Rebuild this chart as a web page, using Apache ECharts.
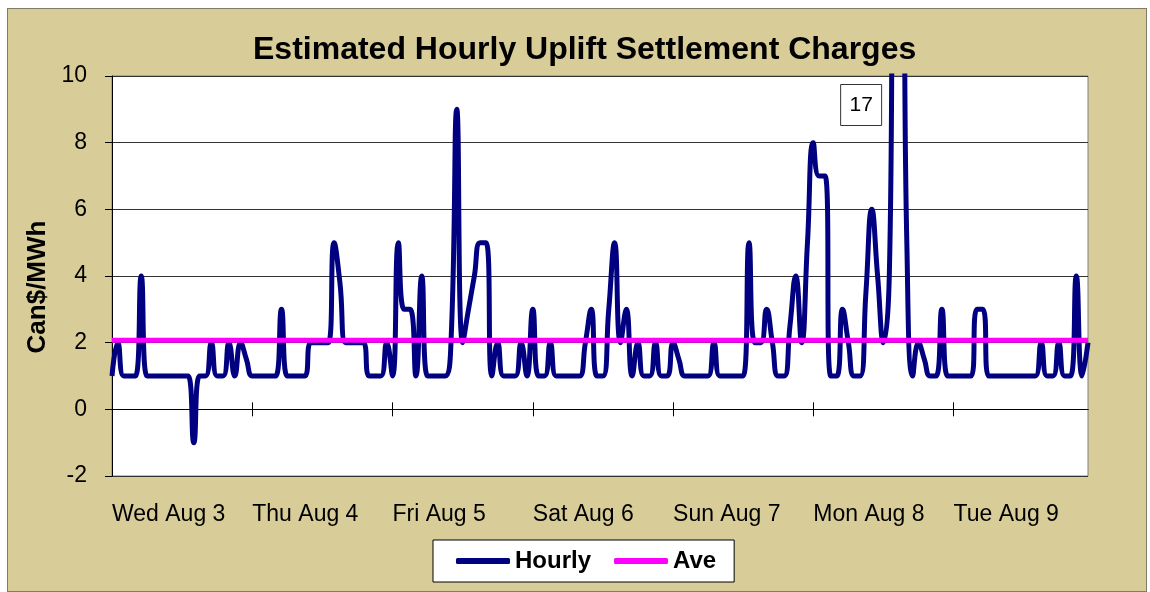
<!DOCTYPE html>
<html>
<head>
<meta charset="utf-8">
<title>Estimated Hourly Uplift Settlement Charges</title>
<script src="https://cdn.jsdelivr.net/npm/echarts@6/dist/echarts.min.js"></script>
<style>
	html, body { margin: 0; padding: 0; background: #fff; }
	#main {
		position: absolute; left: 7px; top: 8px;
		width: 1138px; height: 582px;
		border: 1px solid #7f7b68;
		background: #d8cc98;
	}
</style>
</head>
<body>
<div id="main"></div>
<script>
// day labels, one per 24 hours
var dayLabels = ['Wed Aug 3', 'Thu Aug 4', 'Fri Aug 5', 'Sat Aug 6', 'Sun Aug 7', 'Mon Aug 8', 'Tue Aug 9'];

// hourly uplift, Can$/MWh (one array per day)
var wedAug3 = [1, 2, 1, 1, 1, 4, 1, 1, 1, 1, 1, 1, 1, 1, -1, 1, 1, 2, 1, 1, 2, 1, 2, 1.5];
var thuAug4 = [1, 1, 1, 1, 1, 3, 1, 1, 1, 1, 2, 2, 2, 2, 5, 3.8, 2, 2, 2, 2, 1, 1, 1, 2];
var friAug5 = [1, 5, 3, 3, 1, 4, 1, 1, 1, 1, 2, 9, 2, 3, 4, 5, 5, 1, 2, 1, 1, 1, 2, 1];
var satAug6 = [3, 1, 1, 2, 1, 1, 1, 1, 1, 2, 3, 1, 1, 3, 5, 2, 3, 1, 2, 1, 1, 2, 1, 1];
var sunAug7 = [2, 1.5, 1, 1, 1, 1, 1, 2, 1, 1, 1, 1, 1, 5, 2, 2, 3, 2, 1, 1, 2.5, 4, 2, 5];
var monAug8 = [8, 7, 7, 1, 1, 3, 2, 1, 1, 3.5, 6, 4, 2, 4, 17, 17, 5, 1, 2, 1.5, 1, 1, 3, 1];
var tueAug9 = [1, 1, 1, 1, 3, 3, 1, 1, 1, 1, 1, 1, 1, 1, 1, 2, 1, 1, 2, 1, 1, 4, 1, 2];

// weekly average
var aveValue = 2.07;

// y axis ticks
var yMin = -2, yMax = 10, yStep = 2;

/* ---------------------------------------------------------------- */
var hourly = [].concat(wedAug3, thuAug4, friAug5, satAug6, sunAug7, monAug8, tueAug9);
var hours = hourly.map(function(v, i) { return i; });
var aveLine = hours.map(function() { return aveValue; });
var peakIndex = hourly.indexOf(Math.max.apply(null, hourly));

var FONT = 'Liberation Sans, Arial, sans-serif';

function isDayStart(index) {
	return index % 24 === 0;
}
function isInnerDayStart(index) {
	return index % 24 === 0 && index > 0;
}

var plotBox = { left : 104, top : 67, width : 976, height : 400 };

var myChart = echarts.init(document.getElementById('main'));

var option = {
	animation : false,
	textStyle : {
		fontFamily : FONT
	},
	title : {
		text : 'Estimated Hourly Uplift Settlement Charges',
		left : 240,
		top : 20,
		textStyle : {
			fontFamily : FONT,
			fontSize : 32,
			fontWeight : 'bold',
			color : '#000'
		}
	},
	legend : {
		data : [ 'Hourly', 'Ave' ],
		left : 425,
		top : 531,
		padding : [ 9, 18, 9, 23 ],
		itemGap : 23,
		itemWidth : 54,
		itemHeight : 6,
		icon : 'roundRect',
		backgroundColor : '#fff',
		borderColor : '#000',
		borderWidth : 1,
		borderRadius : 0,
		textStyle : {
			fontFamily : FONT,
			fontSize : 24,
			fontWeight : 'bold',
			color : '#000'
		}
	},
	// grid 0 holds the chart, grid 1 sits on top of it only for the upper half of the cross ticks
	grid : [ {
		left : plotBox.left,
		top : plotBox.top,
		width : plotBox.width,
		height : plotBox.height,
		show : true,
		backgroundColor : '#fff',
		borderColor : '#808080',
		borderWidth : 1
	}, {
		left : plotBox.left,
		top : plotBox.top,
		width : plotBox.width,
		height : plotBox.height,
		show : false
	} ],
	xAxis : [ {
		// zero line, ticks below
		type : 'category',
		gridIndex : 0,
		data : hours,
		boundaryGap : false,
		position : 'bottom',
		axisLine : {
			onZero : true,
			lineStyle : { color : '#000', width : 1 }
		},
		axisTick : {
			interval : isInnerDayStart,
			length : 7,
			lineStyle : { color : '#000' }
		},
		axisLabel : { show : false },
		splitLine : { show : false }
	}, {
		// day labels at the bottom of the plot
		type : 'category',
		gridIndex : 0,
		data : hours,
		boundaryGap : false,
		position : 'bottom',
		axisLine : { show : false, onZero : false },
		axisTick : { show : false },
		axisLabel : {
			interval : isDayStart,
			formatter : function(v) { return dayLabels[Math.floor(v / 24)]; },
			align : 'left',
			margin : 27,
			fontFamily : FONT,
			fontSize : 23,
			color : '#000'
		},
		splitLine : { show : false }
	}, {
		// zero line of grid 1, ticks above
		type : 'category',
		gridIndex : 1,
		data : hours,
		boundaryGap : false,
		position : 'bottom',
		axisLine : {
			show : true,
			onZero : true,
			lineStyle : { color : '#000', width : 1 }
		},
		axisTick : {
			inside : true,
			interval : isInnerDayStart,
			length : 7,
			lineStyle : { color : '#000' }
		},
		axisLabel : { show : false },
		splitLine : { show : false }
	} ],
	yAxis : [ {
		type : 'value',
		gridIndex : 0,
		min : yMin,
		max : yMax,
		interval : yStep,
		name : 'Can$/MWh',
		nameLocation : 'middle',
		nameGap : 56,
		nameTextStyle : {
			fontFamily : FONT,
			fontSize : 26,
			fontWeight : 'bold',
			color : '#000',
			padding : [ 0, 22, 0, 0 ]
		},
		axisLine : {
			show : true,
			lineStyle : { color : '#000' }
		},
		axisTick : {
			show : true,
			length : 7,
			lineStyle : { color : '#000' }
		},
		axisLabel : {
			margin : 25,
			fontFamily : FONT,
			fontSize : 23,
			color : '#000'
		},
		splitLine : {
			lineStyle : { color : '#333', width : 1 }
		}
	}, {
		type : 'value',
		gridIndex : 1,
		min : yMin,
		max : yMax,
		interval : yStep,
		axisLine : { show : false },
		axisTick : { show : false },
		axisLabel : { show : false },
		splitLine : { show : false }
	} ],
	series : [ {
		name : 'Hourly',
		type : 'line',
		xAxisIndex : 0,
		yAxisIndex : 0,
		data : hourly,
		smooth : 0.5,
		symbol : 'none',
		clip : true,
		lineStyle : { color : '#000080', width : 5 },
		itemStyle : { color : '#000080' },
		markPoint : {
			symbol : 'rect',
			symbolSize : [ 41, 41 ],
			symbolOffset : [ -34, 29 ],
			itemStyle : {
				color : '#fff',
				borderColor : '#333',
				borderWidth : 1
			},
			label : {
				show : true,
				position : 'inside',
				fontFamily : FONT,
				fontSize : 21,
				color : '#000'
			},
			data : [ {
				coord : [ peakIndex, yMax ],
				value : hourly[peakIndex]
			} ]
		}
	}, {
		name : 'Ave',
		type : 'line',
		xAxisIndex : 0,
		yAxisIndex : 0,
		data : aveLine,
		symbol : 'none',
		lineStyle : { color : '#ff00ff', width : 5 },
		itemStyle : { color : '#ff00ff' }
	} ]
};
myChart.setOption(option);
</script>
</body>
</html>
